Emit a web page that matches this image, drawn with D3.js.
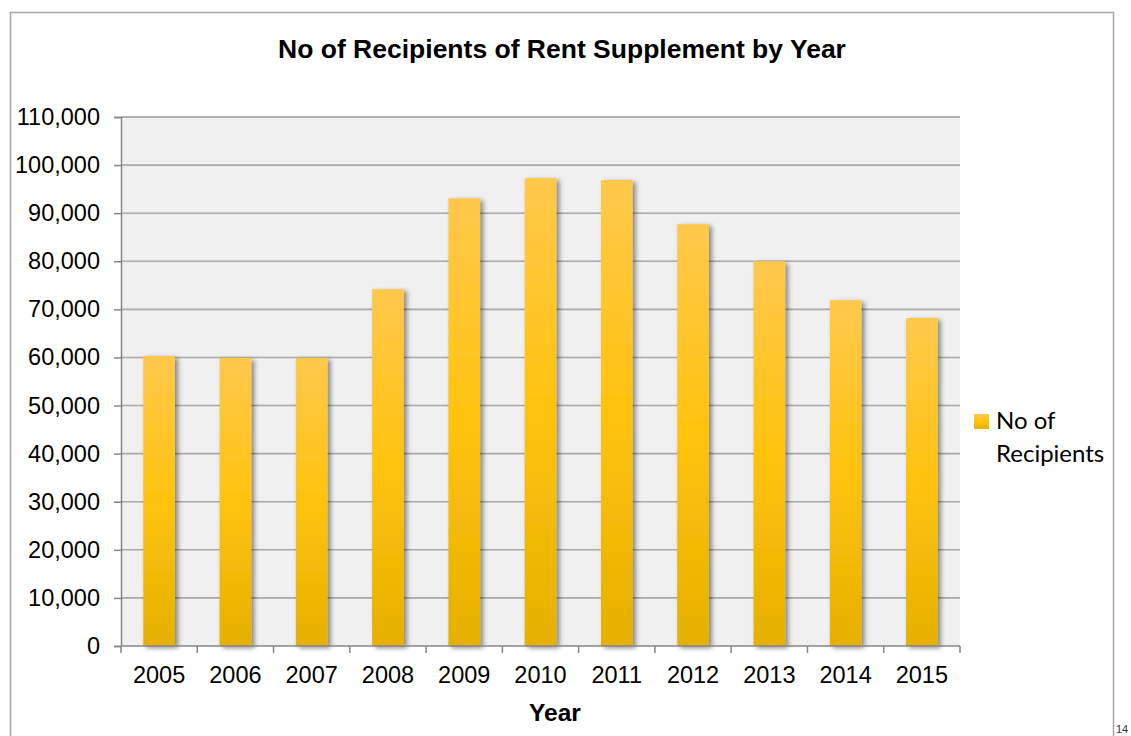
<!DOCTYPE html>
<html>
<head>
<meta charset="utf-8">
<script src="https://cdn.jsdelivr.net/npm/d3@7"></script>
<style>
  body { margin: 0; background: #fff; }
  svg { display: block; }
</style>
</head>
<body>
<script>
const years = ["2005", "2006", "2007", "2008", "2009", "2010", "2011", "2012", "2013", "2014", "2015"];
const recipients = [60300, 59900, 59900, 74200, 93100, 97300, 96900, 87700, 80000, 71900, 68200];
const yTicks = [0, 10000, 20000, 30000, 40000, 50000, 60000, 70000, 80000, 90000, 100000, 110000];
const seriesName = ["No of", "Recipients"];

const width = 1131;
const height = 736;
const plot = {left: 121, right: 960, top: 117, bottom: 646};

const svg = d3.select("body").append("svg")
    .attr("width", width)
    .attr("height", height);

let defs = svg.append("defs");
let grad = defs.append("linearGradient")
    .attr("id", "barGrad")
    .attr("x1", 0).attr("y1", 0).attr("x2", 0).attr("y2", 1);
grad.append("stop").attr("offset", "0%").attr("stop-color", "#ffc84c");
grad.append("stop").attr("offset", "50%").attr("stop-color", "#ffc30d");
grad.append("stop").attr("offset", "100%").attr("stop-color", "#e5b000");

let shadow = defs.append("filter")
    .attr("id", "shadow")
    .attr("x", "-30%").attr("y", "-10%").attr("width", "180%").attr("height", "130%");
shadow.append("feDropShadow")
    .attr("dx", 3).attr("dy", 2)
    .attr("stdDeviation", 2.5)
    .attr("flood-color", "#000")
    .attr("flood-opacity", 0.45);

// outer frame
svg.append("rect")
    .attr("x", 10.5).attr("y", 12.5)
    .attr("width", 1103).attr("height", 740)
    .attr("fill", "none")
    .attr("stroke", "#a6a6a6")
    .attr("stroke-width", 1.5);

let x = d3.scaleBand()
    .domain(years)
    .range([plot.left, plot.right])
    .paddingInner(0.585)
    .paddingOuter(0.2925);

let xOuter = d3.scaleBand()
    .domain(years)
    .range([plot.left, plot.right]);

let y = d3.scaleLinear()
    .domain([0, 110000])
    .range([plot.bottom, plot.top]);

// plot background
svg.append("rect")
    .attr("x", plot.left).attr("y", plot.top)
    .attr("width", plot.right - plot.left)
    .attr("height", plot.bottom - plot.top)
    .attr("fill", "#f0f0f0");

// gridlines
svg.append("g")
    .selectAll("line")
    .data(yTicks.filter(function(d){ return d > 0; }))
    .enter().append("line")
    .attr("x1", plot.left).attr("x2", plot.right)
    .attr("y1", function(d){ return y(d); })
    .attr("y2", function(d){ return y(d); })
    .attr("stroke", function(d){ return d === 110000 ? "#999" : "#a8a8a8"; })
    .attr("stroke-width", 1.6);

// bars
svg.append("g")
    .selectAll("rect")
    .data(recipients)
    .enter().append("rect")
    .attr("x", function(d, i){ return x(years[i]); })
    .attr("y", function(d){ return y(d); })
    .attr("width", x.bandwidth())
    .attr("height", function(d){ return plot.bottom - y(d); })
    .attr("fill", "url(#barGrad)")
    .attr("filter", "url(#shadow)");

// y axis
let yAxis = d3.axisLeft(y)
    .tickValues(yTicks)
    .tickSize(7)
    .tickPadding(14)
    .tickFormat(d3.format(","));
let gy = svg.append("g")
    .attr("transform", "translate(" + plot.left + ",0)")
    .call(yAxis);
gy.select(".domain").attr("stroke", "#868686").attr("stroke-width", 1.5);
gy.selectAll(".tick line").attr("stroke", "#868686").attr("stroke-width", 1.5);
gy.selectAll("text")
    .attr("fill", "#000")
    .style("font-family", "'Liberation Sans', Arial, sans-serif")
    .style("font-size", "23.5px");

// x axis: ticks at category boundaries
let gx = svg.append("g")
    .attr("transform", "translate(0," + plot.bottom + ")");
gx.append("line")
    .attr("x1", plot.left).attr("x2", plot.right)
    .attr("stroke", "#868686").attr("stroke-width", 1.5);
gx.selectAll("line.tk")
    .data(years.concat(["end"]))
    .enter().append("line")
    .attr("class", "tk")
    .attr("x1", function(d, i){ return i < years.length ? xOuter(d) : plot.right; })
    .attr("x2", function(d, i){ return i < years.length ? xOuter(d) : plot.right; })
    .attr("y1", 0).attr("y2", 7)
    .attr("stroke", "#868686").attr("stroke-width", 1.5);
gx.selectAll("text")
    .data(years)
    .enter().append("text")
    .attr("x", function(d){ return xOuter(d) + xOuter.bandwidth() / 2; })
    .attr("y", 37)
    .attr("text-anchor", "middle")
    .style("font-family", "'Liberation Sans', Arial, sans-serif")
    .style("font-size", "23.5px")
    .text(function(d){ return d; });

// title
svg.append("text")
    .attr("x", 562).attr("y", 58)
    .attr("text-anchor", "middle")
    .style("font-family", "'Liberation Sans', Arial, sans-serif")
    .style("font-size", "26.5px")
    .style("font-weight", "bold")
    .text("No of Recipients of Rent Supplement by Year");

// x axis title
svg.append("text")
    .attr("x", 555).attr("y", 721)
    .attr("text-anchor", "middle")
    .style("font-family", "'Liberation Sans', Arial, sans-serif")
    .style("font-size", "24.5px")
    .style("font-weight", "bold")
    .text("Year");

// legend
let legend = svg.append("g");
legend.append("rect")
    .attr("x", 974).attr("y", 414)
    .attr("width", 15).attr("height", 15)
    .attr("fill", "url(#barGrad)");
legend.selectAll("text")
    .data(seriesName)
    .enter().append("text")
    .attr("x", 996)
    .attr("y", function(d, i){ return 429 + i * 33; })
    .style("font-family", "Lato, 'Open Sans', sans-serif")
    .style("font-size", "24px")
    .text(function(d){ return d; });

// page number
svg.append("text")
    .attr("x", 1116).attr("y", 733)
    .style("font-family", "'Liberation Sans', Arial, sans-serif")
    .style("font-size", "11px")
    .attr("fill", "#333")
    .text("14");
</script>
</body>
</html>
